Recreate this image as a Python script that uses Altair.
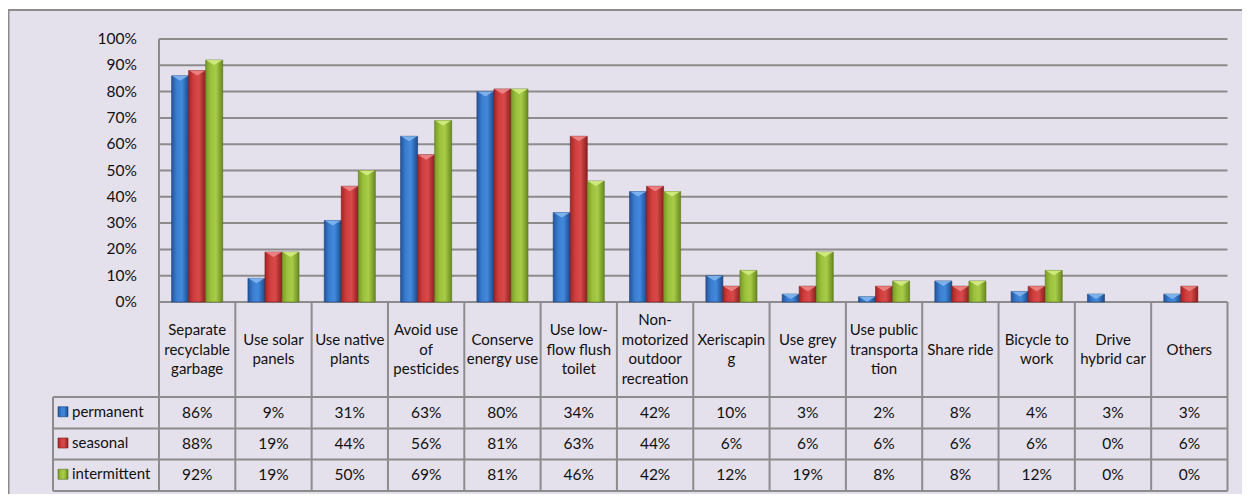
import altair as alt
import pandas as pd

# ---------------- data ----------------
categories = [
    "Separate recyclable garbage", "Use solar panels", "Use native plants",
    "Avoid use of pesticides", "Conserve energy use", "Use low-flow flush toilet",
    "Non-motorized outdoor recreation", "Xeriscaping", "Use grey water",
    "Use public transportation", "Share ride", "Bicycle to work",
    "Drive hybrid car", "Others",
]
cat_labels = [
    "Separate\nrecyclable\ngarbage", "Use solar\npanels", "Use native\nplants",
    "Avoid use\nof\npesticides", "Conserve\nenergy use", "Use low-\nflow flush\ntoilet",
    "Non-\nmotorized\noutdoor\nrecreation", "Xeriscapin\ng", "Use grey\nwater",
    "Use public\ntransporta\ntion", "Share ride", "Bicycle to\nwork",
    "Drive\nhybrid car", "Others",
]
series = ["permanent", "seasonal", "intermittent"]
permanent = [86, 9, 31, 63, 80, 34, 42, 10, 3, 2, 8, 4, 3, 3]
seasonal = [88, 19, 44, 56, 81, 63, 44, 6, 6, 6, 6, 6, 0, 6]
intermittent = [92, 19, 50, 69, 81, 46, 42, 12, 19, 8, 8, 12, 0, 0]
y_ticks = [0, 10, 20, 30, 40, 50, 60, 70, 80, 90, 100]

rows = []
for i, c in enumerate(categories):
    for s, vals in zip(series, [permanent, seasonal, intermittent]):
        rows.append({"cat": c, "series": s, "value": vals[i], "label": f"{vals[i]}%"})
df = pd.DataFrame(rows)
cat_df = pd.DataFrame({"cat": categories, "label": cat_labels,
                       "nlines": [l.count("\n") + 1 for l in cat_labels]})
tick_df = pd.DataFrame({"t": y_ticks, "label": [f"{t}%" for t in y_ticks]})

# ---------------- layout / style ----------------
W, H = 1234, 486
PX0, PX1 = 151, 1219.5          # plot area left/right
PY100, PY0 = 31, 294            # y of 100% and 0%
HEAD_BOTTOM = 389
ROW_LINES = [389, 420.5, 451.5, 483]
ROW_CENTERS = [404.75, 436, 467.25]
LEG_X0 = 45
FONT = "Lato"
FS = 15
LH = 19.5
GRID = "#8c8c8c"
BG = "#e4e0ec"
TXT = "#111111"

grad_stops = {
    "permanent": ["#23559c", "#3b7ed1", "#4289dc", "#1d4a8a"],
    "seasonal": ["#a32626", "#d13e3e", "#d84a4a", "#8c1f1f"],
    "intermittent": ["#779b27", "#9cc13c", "#a8cc48", "#68891f"],
}
bevel = {"permanent": "#86b8f0", "seasonal": "#f08a8a", "intermittent": "#d6ee86"}
outline = {"permanent": "#1b3f78", "seasonal": "#7a1a1a", "intermittent": "#5a761a"}


def grad(s):
    c = grad_stops[s]
    return alt.Gradient(
        gradient="linear", x1=0, x2=1, y1=0, y2=0,
        stops=[alt.GradientStop(offset=0, color=c[0]),
               alt.GradientStop(offset=0.3, color=c[1]),
               alt.GradientStop(offset=0.6, color=c[2]),
               alt.GradientStop(offset=1, color=c[3])],
    )


one = alt.Data(values=[{"k": 1}])
xscale = alt.Scale(domain=categories, range=[PX0, PX1], paddingInner=0, paddingOuter=0)
yscale = alt.Scale(domain=[0, 100], range=[PY0, PY100], nice=False, zero=True)
xoff_scale = alt.Scale(domain=series, paddingInner=0, paddingOuter=0.74)

layers = []

# background frame
layers.append(
    alt.Chart(one).mark_rect(fill=BG, stroke=GRID, strokeWidth=2).encode(
        x=alt.value(0.5), x2=alt.value(W + 10), y=alt.value(2), y2=alt.value(H + 10)
    )
)

# gridlines
layers.append(
    alt.Chart(tick_df).mark_rule(color=GRID, strokeWidth=2).encode(
        y=alt.Y("t:Q", scale=yscale, axis=None),
        x=alt.value(PX0), x2=alt.value(PX1),
    )
)
# y labels
layers.append(
    alt.Chart(tick_df).mark_text(align="right", baseline="middle", font=FONT,
                                 fontSize=15.5, color=TXT).encode(
        y=alt.Y("t:Q", scale=yscale, axis=None),
        x=alt.value(129),
        text="label:N",
    )
)
# left axis line
layers.append(
    alt.Chart(one).mark_rule(color=GRID, strokeWidth=2).encode(
        x=alt.value(PX0), y=alt.value(PY100), y2=alt.value(PY0)
    )
)
# table horizontal lines
for yl in ROW_LINES:
    layers.append(
        alt.Chart(one).mark_rule(color=GRID, strokeWidth=2).encode(
            x=alt.value(LEG_X0), x2=alt.value(PX1), y=alt.value(yl)
        )
    )
# legend column left line
layers.append(
    alt.Chart(one).mark_rule(color=GRID, strokeWidth=2).encode(
        x=alt.value(LEG_X0), y=alt.value(HEAD_BOTTOM), y2=alt.value(ROW_LINES[-1])
    )
)
# column separators
layers.append(
    alt.Chart(cat_df).mark_rule(color=GRID, strokeWidth=2).encode(
        x=alt.X("cat:N", scale=xscale, bandPosition=0, axis=None),
        y=alt.value(PY0), y2=alt.value(ROW_LINES[-1]),
    )
)
layers.append(
    alt.Chart(cat_df.tail(1)).mark_rule(color=GRID, strokeWidth=2).encode(
        x=alt.X("cat:N", scale=xscale, bandPosition=1, axis=None),
        y=alt.value(PY0), y2=alt.value(ROW_LINES[-1]),
    )
)

# bars
for s in series:
    base = alt.Chart(df).transform_filter(alt.datum.series == s).transform_filter(
        alt.datum.value > 0)
    enc = dict(
        x=alt.X("cat:N", scale=xscale, axis=None),
        xOffset=alt.XOffset("series:N", scale=xoff_scale),
        y=alt.Y("value:Q", scale=yscale, axis=None),
    )
    layers.append(
        base.mark_bar(fill=grad(s), stroke=outline[s], strokeWidth=0.6).encode(**enc)
    )
    layers.append(
        base.mark_point(
            shape="M -1 0 L 1 0 L 0 0.6 Z", filled=True, size=270,
            fill=bevel[s], opacity=0.85, strokeWidth=0,
        ).encode(**enc)
    )

# category header text (block vertically centred in the header cell)
head_c = (PY0 + HEAD_BOTTOM) / 2
for n in sorted(set(cat_df["nlines"])):
    layers.append(
        alt.Chart(cat_df).transform_filter(alt.datum.nlines == n).mark_text(
            align="center", baseline="middle", lineBreak="\n", lineHeight=LH,
            font=FONT, fontSize=FS, color=TXT,
        ).encode(
            x=alt.X("cat:N", scale=xscale, axis=None),
            y=alt.value(head_c - (n - 1) * LH / 2),
            text="label:N",
        )
    )

# table values + legend
for i, s in enumerate(series):
    rc = ROW_CENTERS[i]
    layers.append(
        alt.Chart(df).transform_filter(alt.datum.series == s).mark_text(
            align="center", baseline="middle", font=FONT, fontSize=15.5, color=TXT
        ).encode(
            x=alt.X("cat:N", scale=xscale, axis=None),
            y=alt.value(rc),
            text="label:N",
        )
    )
    layers.append(
        alt.Chart(alt.Data(values=[{"series": s}])).mark_text(
            align="left", baseline="middle", font=FONT, fontSize=15, color=TXT
        ).encode(x=alt.value(64), y=alt.value(rc - 1), text="series:N")
    )
    layers.append(
        alt.Chart(one).mark_rect(fill=grad(s), stroke=outline[s], strokeWidth=0.6).encode(
            x=alt.value(50), x2=alt.value(60), y=alt.value(rc - 6), y2=alt.value(rc + 4)
        )
    )

chart = alt.layer(*layers).properties(
    width=W, height=H, padding=0, autosize=alt.AutoSizeParams(type="none"),
    background="white",
).configure_view(stroke=None)

chart.save("out.html", embed_options={"renderer": "svg", "actions": False})
